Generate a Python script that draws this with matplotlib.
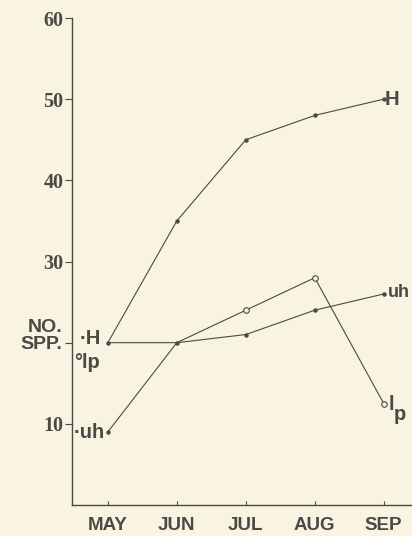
import numpy as np
import matplotlib.pyplot as plt

months = ["MAY", "JUN", "JUL", "AUG", "SEP"]
h_vals = [20, 35, 45, 48, 50]
lp_vals = [20, 20, 24, 28, 12.5]
uh_vals = [9, 20, 21, 24, 26]
y_ticks = [10, 20, 30, 40, 50, 60]
y_tick_labels = ["10", "", "30", "40", "50", "60"]

bg = "#f8f4e1"
ink = "#4a4a44"
sans = "Liberation Sans"
serif = "Liberation Serif"

fig = plt.figure(figsize=(4.12, 5.36), dpi=100, facecolor=bg)
ax = fig.add_axes([72 / 412, 31 / 536, 1 - 72 / 412, (505 - 18) / 536])
ax.set_facecolor(bg)

x = np.arange(len(months))
ax.plot(x, h_vals, color=ink, lw=0.8, marker="o", ms=2.2, mfc=ink, mec=ink)
ax.plot(x, uh_vals, color=ink, lw=0.8, marker="o", ms=2.2, mfc=ink, mec=ink)
ax.plot(x, lp_vals, color=ink, lw=0.8)
ax.plot(x[2:], lp_vals[2:], marker="o", ms=4, mfc=bg, mec=ink, mew=0.8,
        linestyle="none")

ax.set_xlim(-0.52, 4.41)
ax.set_ylim(0, 60)

for s in ["top", "right"]:
    ax.spines[s].set_visible(False)
for s in ["left", "bottom"]:
    ax.spines[s].set_color(ink)
    ax.spines[s].set_linewidth(1.0)

ax.set_xticks(x)
ax.set_xticklabels(months, fontfamily=sans, fontweight="bold", fontsize=13.5,
                   color=ink)
ax.tick_params(axis="x", direction="in", length=3, color=ink, pad=9)
ax.set_yticks(y_ticks)
ax.set_yticklabels(y_tick_labels, fontfamily=serif, fontweight="bold",
                   fontsize=14.5, color=ink)
ax.tick_params(axis="y", direction="out", length=5, color=ink, pad=1)

# axis label in place of the 20 tick
ax.text(-0.66, 20.8, "NO.\nSPP.", ha="right", va="center", fontfamily=sans,
        fontweight="bold", fontsize=14, color=ink, linespacing=0.95)

# series labels at start
lab = dict(fontfamily=sans, fontweight="bold", fontsize=14.5, color=ink)
ax.text(-0.1, 20.5, "·H", ha="right", va="center", **lab)
ax.text(-0.12, 17.5, "°lp", ha="right", va="center", **lab)
ax.text(-0.04, 8.9, "·uh", ha="right", va="center", **lab)

# series labels at end
ax.text(4.02, 50, "H", ha="left", va="center", **lab)
ax.text(4.06, 26.2, "uh", ha="left", va="center", fontfamily=sans,
        fontweight="bold", fontsize=13, color=ink)
ax.text(4.07, 12.4, "l", ha="left", va="center", **lab)
ax.text(4.14, 11.2, "p", ha="left", va="center", **lab)

fig.savefig("out.png", dpi=100, facecolor=bg)
